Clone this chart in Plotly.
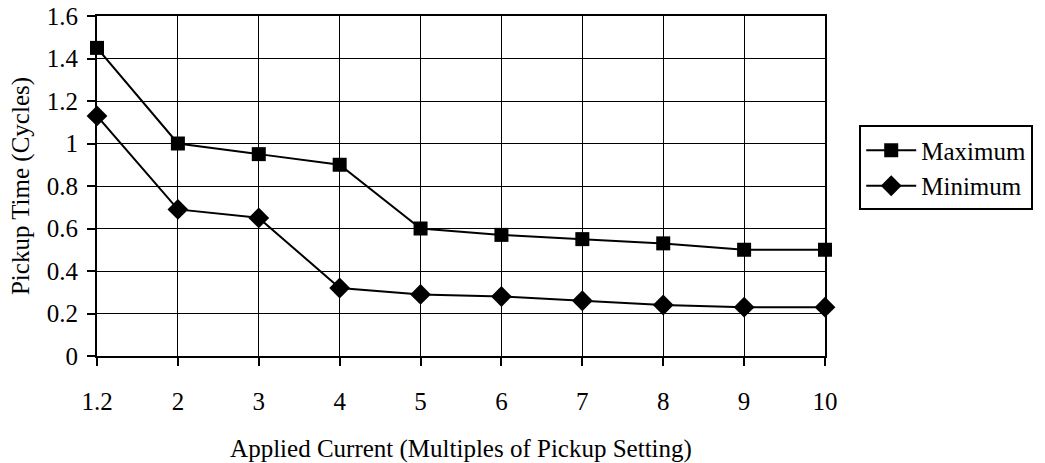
import plotly.graph_objects as go

current = ["1.2", "2", "3", "4", "5", "6", "7", "8", "9", "10"]
maximum = [1.45, 1.0, 0.95, 0.9, 0.6, 0.57, 0.55, 0.53, 0.5, 0.5]
minimum = [1.13, 0.69, 0.65, 0.32, 0.29, 0.28, 0.26, 0.24, 0.23, 0.23]

font = "Liberation Serif, Times New Roman, serif"

fig = go.Figure()
fig.add_trace(go.Scatter(x=current, y=maximum, name="Maximum", mode="lines+markers",
                         line=dict(color="black", width=2), cliponaxis=False,
                         marker=dict(symbol="square", size=14, color="black")))
fig.add_trace(go.Scatter(x=current, y=minimum, name="Minimum", mode="lines+markers",
                         line=dict(color="black", width=2), cliponaxis=False,
                         marker=dict(symbol="diamond", size=16, color="black")))

fig.update_xaxes(type="category", range=[0, 9], automargin=False,
                 title=dict(text="Applied Current (Multiples of Pickup Setting)",
                            font=dict(size=25), standoff=26),
                 showline=True, linecolor="black", linewidth=2, mirror=True,
                 showgrid=True, gridcolor="black", gridwidth=1,
                 ticks="outside", ticklen=8, tickwidth=2, tickcolor="black",
                 ticklabelstandoff=14, tickfont=dict(size=25), zeroline=False,
                 ticklabeloverflow="allow")
fig.update_yaxes(range=[0, 1.6], dtick=0.2, automargin=False,
                 title=dict(text="Pickup Time (Cycles)", font=dict(size=25), standoff=10),
                 showline=True, linecolor="black", linewidth=2, mirror=True,
                 showgrid=True, gridcolor="black", gridwidth=1,
                 ticks="outside", ticklen=8, tickwidth=2, tickcolor="black",
                 ticklabelstandoff=4, tickfont=dict(size=25),
                 zeroline=False, ticklabeloverflow="allow")

fig.update_layout(width=1045, height=463,
                  font=dict(family=font, color="black", size=25),
                  plot_bgcolor="white", paper_bgcolor="white",
                  margin=dict(l=97, r=217, t=16, b=107),
                  legend=dict(x=1.047, y=0.678, xanchor="left", yanchor="top",
                              bordercolor="black", borderwidth=2,
                              font=dict(size=25), itemwidth=50,
                              tracegroupgap=0))

# drop the browser's default 8px body margin so the figure sits at the corner
fig.write_html("out.html", config={"displayModeBar": False},
               post_script="document.body.style.margin='0';")
